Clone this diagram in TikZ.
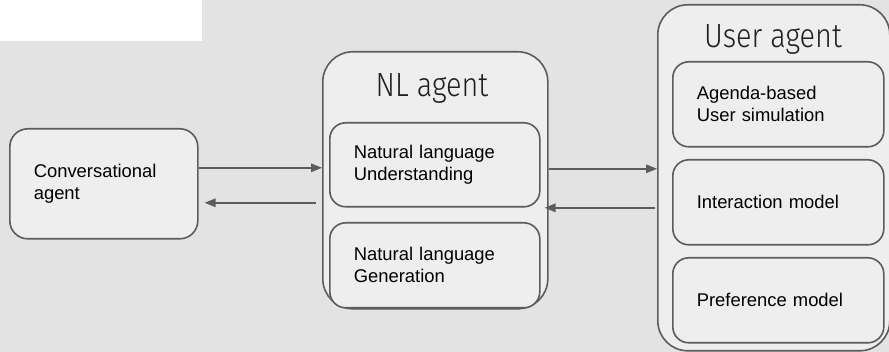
\documentclass[tikz,border=0pt]{standalone}
\usepackage{fontspec}
\setmainfont{Liberation Sans}
\newfontfamily\titlefont{Fira Sans Light}
\usetikzlibrary{arrows.meta,calc}
\definecolor{bggray}{RGB}{227,227,227}
\definecolor{boxfill}{RGB}{238,238,238}
\definecolor{edge}{RGB}{92,92,92}

\begin{document}
\begin{tikzpicture}[x=1pt,y=-1pt,
  container/.style={draw=edge, line width=1.6pt, fill=boxfill, rounded corners=30pt,
    anchor=north west, inner sep=0pt},
  block/.style={draw=edge, line width=1.6pt, fill=boxfill, rounded corners=#1,
    anchor=north west, inner xsep=24pt, inner ysep=0pt, align=left,
    font=\fontsize{18.4}{22}\selectfont},
  block/.default=16pt,
  heading/.style={font=\titlefont\fontsize{33.5}{38}\selectfont, text=black!88,
    xscale=0.86},
  arr/.style={draw=edge, line width=1.6pt, -{Triangle[length=11pt,width=8.5pt]}}
]
% canvas
\useasboundingbox (0,0) rectangle (889,352);
\fill[bggray] (0,0) rectangle (889,352);
\fill[white] (0,0) rectangle (202,41);

% left agent
\node[block=18pt, minimum width=188pt, minimum height=110pt, text width=140pt]
  (conv) at (9,128) {Conversational\\agent};

% NL agent
\node[container, minimum width=225pt, minimum height=257pt] (nl) at (322,51) {};
\node[heading] (nltitle) at (432,88) {NL agent};
\node[block, minimum width=210pt, minimum height=84pt, text width=162pt]
  (nlu) at (329,122) {Natural language\\Understanding};
\node[block, minimum width=210pt, minimum height=85pt, text width=162pt]
  (nlg) at (329,222) {Natural language\\Generation};

% user agent
\node[container, minimum width=232pt, minimum height=346pt] (user) at (657,4) {};
\node[heading] (usertitle) at (773,39) {User agent};
\node[block, minimum width=211pt, minimum height=85pt, text width=163pt]
  (agenda) at (672,61) {Agenda-based\\User simulation};
\node[block, minimum width=211pt, minimum height=85pt, text width=163pt]
  (inter) at (672,159) {Interaction model};
\node[block, minimum width=211pt, minimum height=85pt, text width=163pt]
  (pref) at (672,257) {Preference model};

% connectors
\coordinate (c1) at ([yshift=16pt]conv.east);
\coordinate (c2) at ([yshift=-19pt]conv.east);
\draw[arr] (c1) -- (c1 -| nl.west);
\draw[arr] ($(c2 -| nl.west)+(-6,0)$) -- ($(c2)+(6,0)$);

\coordinate (n1) at ([yshift=11.5pt]nl.east);
\coordinate (n2) at ([yshift=-27.5pt]nl.east);
\draw[arr] (n1) -- (n1 -| user.west);
\draw[arr] ($(n2 -| user.west)+(-2,0)$) -- ($(n2)+(-4,0)$);
\end{tikzpicture}
\end{document}
